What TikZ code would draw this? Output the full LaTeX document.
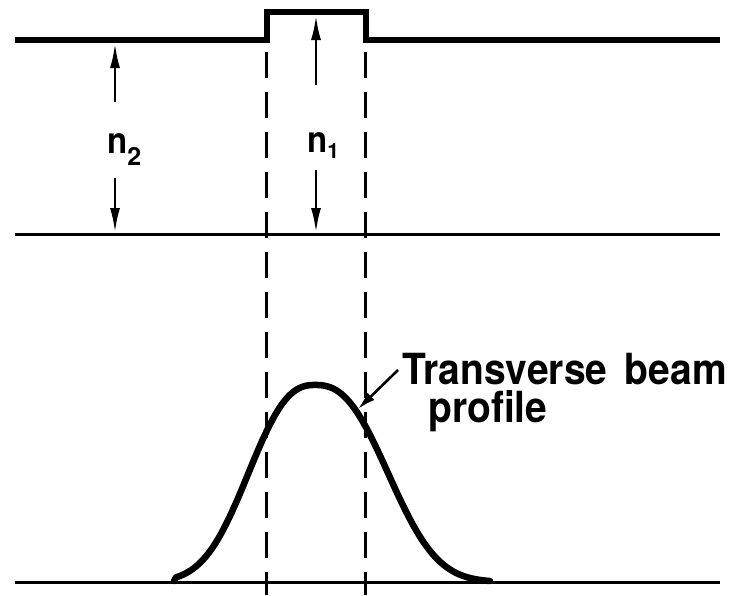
\documentclass[tikz,border=0pt]{standalone}
\usepackage{fontspec}
\setmainfont{TeX Gyre Heros}
\usetikzlibrary{arrows.meta}
\begin{document}
\begin{tikzpicture}[x=1pt,y=-1pt,
  thickline/.style={line width=5.5pt, line join=miter},
  thinline/.style={line width=3pt},
  guide/.style={line width=3pt, dash pattern=on 26pt off 14pt},
  dimarrow/.style={line width=2.8pt, -{Latex[length=25pt,width=10pt]}},
  pointer/.style={line width=2.6pt, -{Latex[length=18pt,width=10pt]}},
  curve/.style={line width=6.5pt, line cap=round, line join=round},
  lbl/.style={inner sep=0pt, anchor=base west, font=\bfseries\fontsize{39}{39}\selectfont},
  nlbl/.style={inner sep=0pt, anchor=base west, font=\bfseries\fontsize{33}{33}\selectfont}]
\useasboundingbox (0,0) rectangle (744,595);
% index profile
\draw[thickline] (15,40) -- (267,40) -- (267,12) -- (366,12) -- (366,40) -- (720,40);
\draw[thinline] (15,234) -- (720,234);
\draw[thinline] (15,582) -- (720,582);
% dashed guides
\draw[guide] (266,52) -- (266,595);
\draw[guide] (365,52) -- (365,595);
% labels n2, n1
\node[nlbl] (n2) at (107,153) {\scalebox{1}[1.1]{n}\raisebox{-12pt}{\fontsize{25}{25}\selectfont 2}};
\node[nlbl] (n1) at (307,152) {\scalebox{1}[1.1]{n}\raisebox{-6pt}{\fontsize{21}{21}\selectfont 1}};
\coordinate (n2top) at (115,102);
\coordinate (n2tip) at (115,43);
\coordinate (n2bot) at (115,178);
\coordinate (n2tipb) at (115,233);
\coordinate (n1top) at (316,85);
\coordinate (n1tip) at (316,15);
\coordinate (n1bot) at (316,170);
\coordinate (n1tipb) at (316,233);
\draw[dimarrow] (n2top) -- (n2tip);
\draw[dimarrow] (n2bot) -- (n2tipb);
\draw[dimarrow] (n1top) -- (n1tip);
\draw[dimarrow] (n1bot) -- (n1tipb);
% beam profile
\draw[curve] (174,581) -- plot[domain=176:314.9, samples=80] (\x, {582-197*exp(-(((315-\x)/82)^2.5))})
  -- plot[domain=315.1:490, samples=90] (\x, {582-197*exp(-(((\x-315)/90)^2.5))});
% label
\node[lbl] (tb) at (402,384) {\scalebox{1}[1.1]{Transverse\hspace{0.45em}beam}};
\node[lbl] (pr) at (428,422) {\scalebox{1}[1.1]{profile}};
\coordinate (ptail) at (398,370);
\coordinate (ptip) at (358,409);
\draw[pointer] (ptail) -- (ptip);
\end{tikzpicture}
\end{document}
